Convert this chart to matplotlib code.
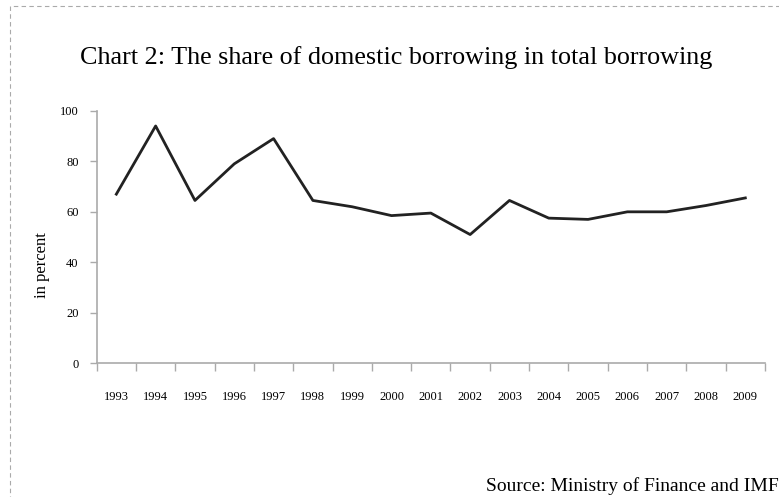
import matplotlib
matplotlib.use("Agg")
import matplotlib.pyplot as plt
from matplotlib.patches import Rectangle

# data
years = [str(y) for y in range(1993, 2010)]
share = [67, 94, 64.5, 79, 89, 64.5, 62, 58.5, 59.5, 51, 64.5, 57.5, 57, 60, 60, 62.5, 65.5]

plt.rcParams['font.family'] = ['Liberation Serif', 'DejaVu Serif']

fig = plt.figure(figsize=(7.79, 4.97), dpi=100)
ax = fig.add_axes([0.1241, 0.269, 0.8579, 0.508])

x = list(range(len(years)))
ax.plot(x, share, color='#222222', linewidth=2.0)

ax.set_xlim(-0.5, len(years) - 0.5)
ax.set_ylim(0, 100)
ax.set_yticks(range(0, 101, 20))
ax.set_xticks(x)
ax.set_xticklabels(years, fontsize=9)
ax.set_xticks([i - 0.5 for i in range(len(years) + 1)], minor=True)
ax.tick_params(axis='x', which='major', length=0, pad=20)
ax.tick_params(axis='x', which='minor', length=6, color='#aaaaaa', width=1)
ax.tick_params(axis='y', length=5, color='#aaaaaa', width=1, labelsize=9, pad=8)

for s in ['top', 'right']:
    ax.spines[s].set_visible(False)
for s in ['left', 'bottom']:
    ax.spines[s].set_color('#aaaaaa')
    ax.spines[s].set_linewidth(1.2)

ax.set_ylabel('in percent', fontsize=12)
ax.yaxis.set_label_coords(-0.07, 0.39)

fig.text(0.509, 0.885, 'Chart 2: The share of domestic borrowing in total borrowing',
         ha='center', va='center', fontsize=18.8)
fig.text(1.0, 0.022, 'Source: Ministry of Finance and IMF', ha='right', va='center', fontsize=14)

# dashed frame
fig.patches.append(Rectangle((0.013, -0.2), 1.2, 1.188, transform=fig.transFigure,
                             fill=False, edgecolor='#aaaaaa', linestyle=(0, (4, 3)), linewidth=0.8))

plt.savefig("out.png")
plt.close()
